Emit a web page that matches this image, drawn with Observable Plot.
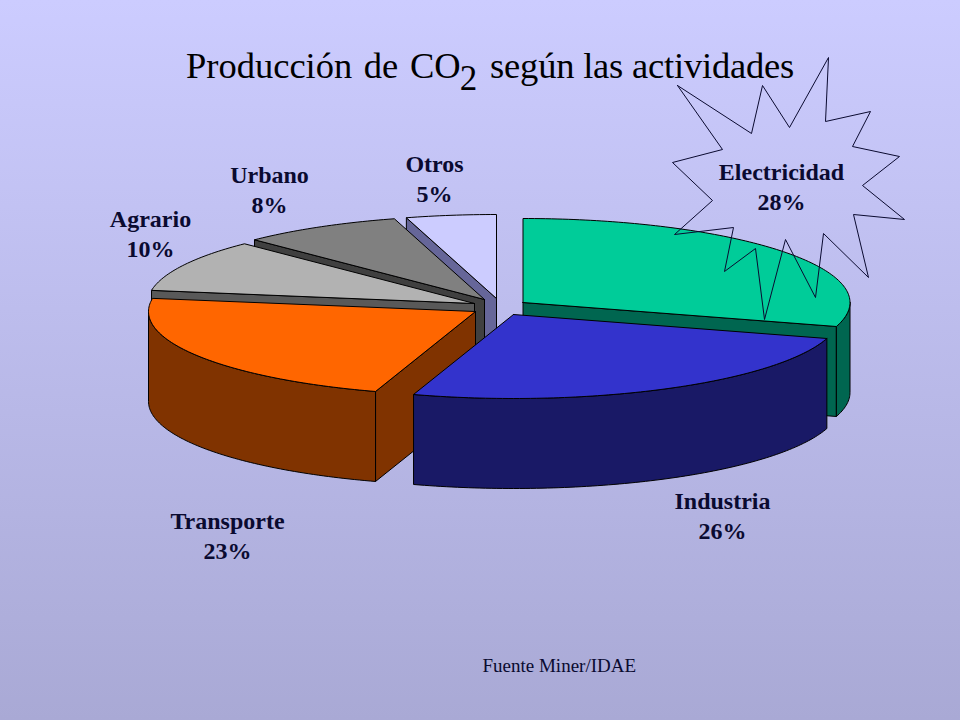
<!DOCTYPE html>
<html lang="es">
<head>
<meta charset="utf-8">
<script src="https://cdn.jsdelivr.net/npm/d3@7"></script>
<script src="https://cdn.jsdelivr.net/npm/@observablehq/plot@0.6"></script>
<style>
  html, body { margin: 0; padding: 0; }
  #page { position: relative; width: 960px; height: 720px; overflow: hidden;
          background: linear-gradient(180deg, #ccccff 0%, #a9a9d5 100%); font-family: "Liberation Serif", serif; }
  #page svg { display: block; background: transparent !important; }
  h1 { position: absolute; z-index: 2; left: 186px; top: 45px; margin: 0; font: normal 36.5px/1.15 "Liberation Serif", serif;
       color: #000; white-space: nowrap; word-spacing: 2.5px; }
  h1 .sub { font-size: 35px; position: relative; top: 12px; margin-right: 4px; margin-left: -1px; }
  h1 .tail { letter-spacing: -.2px; word-spacing: 0; }
</style>
</head>
<body>
<div id="page">
  <h1>Producción de CO<span class="sub">2</span><span class="tail"> según las actividades</span></h1>
</div>
<script>
// Data
const categories = ["Electricidad", "Industria", "Transporte", "Agrario", "Urbano", "Otros"];
const shares = [28, 26, 23, 10, 8, 5];
// Angle of each slice as the 3-D view actually draws it (degrees)
const sweepDegrees = [106.6, 91.2, 81.2, 36.3, 28.7, 16];
const topColors = ["#00cc99", "#3333cc", "#ff6600", "#b2b2b2", "#808080", "#ccccff"];
const sideColors = ["#006650", "#191966", "#803300", "#595959", "#404040", "#666699"];

// Layout of the exploded, tilted pie
const apexX = [522.5, 513, 475, 474, 484, 496];
const apexY = [302, 314, 311, 303, 299, 298];
const radiusX = 327, radiusY = 84, depth = 90;
const paintOrder = [5, 4, 3, 0, 2, 1];

const labelX = [781, 722, 227, 150, 269, 434];
const labelY = [184.5, 513.5, 534, 231.5, 187.5, 176.5];

// Starburst callout behind "Electricidad"
const starX = [677, 751, 762, 789, 828, 825, 870, 852, 899, 862, 904, 853, 868, 823, 815, 785, 764, 755, 724, 733, 674, 712, 672, 722];
const starY = [85, 133, 85, 127, 57, 121, 111, 146, 156, 185, 219, 214, 277, 233, 297, 239, 319, 248, 271, 227, 234, 200, 162, 149];

const rad = d => d * Math.PI / 180;
const rimPoint = (i, t, drop = 0) => ({
  x: apexX[i] + radiusX * Math.sin(rad(t)),
  y: apexY[i] - radiusY * Math.cos(rad(t)) + drop
});
const arc = (i, a, b, drop = 0) => {
  const n = Math.max(1, Math.ceil(Math.abs(b - a)));
  return d3.range(n + 1).map(k => rimPoint(i, a + (b - a) * k / n, drop));
};

const starts = d3.cumsum([0, ...sweepDegrees]);
const faces = [];
const addFace = (pts, color) => {
  const id = faces.length ? faces[faces.length - 1].id + 1 : 0;
  [...pts, pts[0]].forEach(p => faces.push({id, x: p.x, y: p.y, color}));
};
for (const i of paintOrder) {
  const a = starts[i], b = starts[i + 1];
  const apex = {x: apexX[i], y: apexY[i]};
  const apexLow = {x: apexX[i], y: apexY[i] + depth};
  const cutFace = t => addFace([apex, rimPoint(i, t), rimPoint(i, t, depth), apexLow], sideColors[i]);
  // Only the cut faces turned towards the viewer are drawn
  if (Math.sin(rad(a)) < -1e-6) cutFace(a);
  if (Math.sin(rad(b)) > 1e-6) cutFace(b);
  const ra = Math.max(a, 90), rb = Math.min(b, 270);
  if (rb > ra) addFace([...arc(i, ra, rb), ...arc(i, rb, ra, depth)], sideColors[i]);
  addFace([apex, ...arc(i, a, b)], topColors[i]);
}

const star = starX.map((x, i) => ({x, y: starY[i]}));
star.push(star[0]);

const labels = categories.map((c, i) => ({text: `${c}\n${shares[i]}%`, x: labelX[i], y: labelY[i]}));

const chart = Plot.plot({
  width: 960, height: 720,
  margin: 0,
  style: {background: "transparent"},
  x: {domain: [0, 960], range: [0, 960], axis: null},
  y: {domain: [0, 720], range: [0, 720], axis: null},
  color: {type: "identity"},
  marks: [
    Plot.line(faces, {x: "x", y: "y", z: "id", fill: "color", stroke: "#000", strokeWidth: 1, curve: "linear", strokeLinejoin: "miter"}),
    Plot.line(star, {x: "x", y: "y", stroke: "#0a0a30", strokeWidth: 1, curve: "linear", fill: "none"}),
    Plot.text(labels, {x: "x", y: "y", text: "text", fontFamily: "Liberation Serif", fontWeight: "bold", fontSize: 24, lineHeight: 1.27, fill: "#0a0a30", textAnchor: "middle", style: {letterSpacing: "1.3px"}}),
    Plot.text([{x: 482, y: 665, text: "Fuente Miner/IDAE"}], {x: "x", y: "y", text: "text", fontFamily: "Liberation Serif", fontSize: 19, fill: "#0a0a30", textAnchor: "start"})
  ]
});
document.getElementById("page").append(chart);
</script>
</body>
</html>
